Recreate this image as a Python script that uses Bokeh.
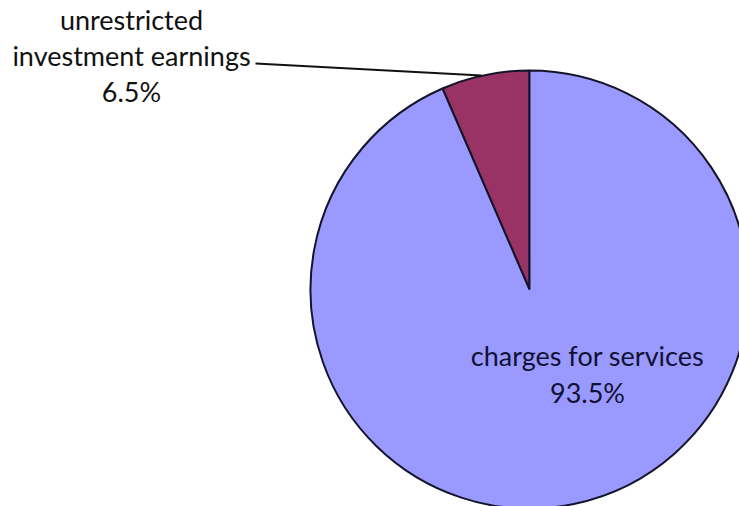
import math
from bokeh.plotting import figure
from bokeh.models import Range1d
from bokeh.core.properties import value
from bokeh.embed import file_html
from bokeh.resources import INLINE

# data
categories = ["unrestricted investment earnings", "charges for services"]
shares = [6.5, 93.5]
label_lines = [["unrestricted", "investment earnings", "6.5%"],
               ["charges for services", "93.5%"]]
colors = ["#993366", "#9999FF"]

W, H = 739, 506
def Y(yi):
    return H - yi

p = figure(width=W, height=H, output_backend="svg", toolbar_location=None,
           x_range=Range1d(0, W), y_range=Range1d(0, H), min_border=0)
p.axis.visible = False
p.grid.visible = False
p.outline_line_color = None
p.background_fill_color = "white"
p.border_fill_color = "white"

cx, cy, r = 529, Y(289), 219
total = sum(shares)
start = math.pi / 2
for share, col in zip(shares, colors):
    end = start + share / total * 2 * math.pi
    p.wedge(x=cx, y=cy, radius=r, start_angle=start, end_angle=end,
            fill_color=col, line_color="#14142a", line_width=2)
    start = end

font = value("Lato")
# label 1 (outside, with leader line)
for txt, yb in zip(label_lines[0], [19, 55, 91]):
    p.text(x=[131], y=[Y(yb)], text=[txt], text_font=font, text_font_size="27px",
           text_align="center", text_baseline="alphabetic", text_color="#111111")
p.line(x=[255, 481], y=[Y(63), Y(75)], line_color="#111111", line_width=2)

# label 2 (inside)
for txt, yb in zip(label_lines[1], [355, 392]):
    p.text(x=[587], y=[Y(yb)], text=[txt], text_font=font, text_font_size="27px",
           text_align="center", text_baseline="alphabetic", text_color="#111133")

open("out.html", "w").write(file_html(p, INLINE))
